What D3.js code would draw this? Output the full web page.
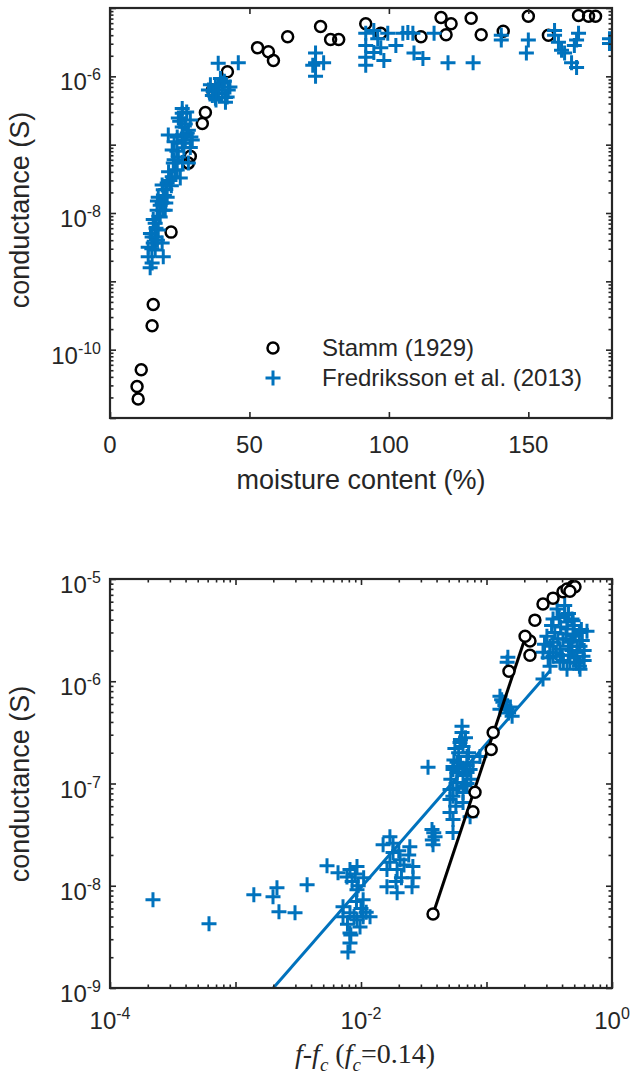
<!DOCTYPE html>
<html><head><meta charset="utf-8">
<script src="https://cdn.jsdelivr.net/npm/d3@7"></script>
<style>
body{margin:0;background:#fff}
svg{display:block}
text{font-family:"Liberation Sans",Arial,sans-serif;fill:#262626}
</style>
</head><body>
<svg id="fig" width="631" height="1082"></svg>
<script>
/* top panel: conductance vs moisture content */
const stammMC=[10.1,9.7,11.2,15.1,15.5,21.9,28.1,28.8,33.1,34.2,36.7,42.1,52.9,56.8,58.6,63.7,75.5,79.1,82.0,91.7,97.1,111.5,118.7,122.3,120.5,129.5,133.1,141.0,150.0,157.2,168.0,171.6,174.1];
const stammG=[1.9e-11,2.9e-11,5.1e-11,2.24e-10,4.57e-10,5.25e-9,5.37e-8,6.76e-8,2.04e-7,2.95e-7,6.31e-7,1.17e-6,2.63e-6,2.29e-6,1.70e-6,3.80e-6,5.37e-6,3.47e-6,3.47e-6,5.89e-6,4.27e-6,3.80e-6,7.24e-6,5.89e-6,4.07e-6,7.08e-6,4.07e-6,4.57e-6,7.59e-6,3.98e-6,7.76e-6,7.59e-6,7.59e-6];
const fredMC=[14.4,15.1,13.7,16.2,15.5,15.1,17.3,16.2,18.0,16.9,18.7,17.3,19.1,20.5,18.7,22.3,23.4,25.2,22.7,24.5,22.3,25.9,24.1,20.9,27.7,25.9,28.1,28.8,25.9,25.9,24.5,27.0,28.8,29.5,28.1,24.1,20.5,19.8,16.2,18.7,19.1,13.7,
  16.5,17.5,18.0,19.5,20.0,21.5,21.0,23.0,24.0,26.5,23.0,26.0,27.0,25.0,27.5,29.0,26.0,22.0,17.0,15.5,14.5,17.0,15.0,19.0,20.0,
  35.3,37.8,40.3,38.8,41.4,42.4,36.7,39.6,41.4,37.8,40.3,38.8,46.0,36.0,39.0,42.0,37.0,41.0,38.0,43.0,
  73.7,73.7,73.7,76.6,72.7,91.7,91.7,91.7,91.7,94.6,96.0,97.1,98.2,99.6,94.6,102.5,105.0,106.8,108.6,109.0,112.2,116.2,121.2,130.2,140.3,140.3,150.0,149.3,159.4,159.4,160.8,161.9,163.0,165.5,167.3,167.3,168.0,166.5,179.1,179.1];
const fredG=[1.58e-9,1.86e-9,2.29e-9,2.88e-9,3.63e-9,4.47e-9,5.62e-9,7.08e-9,8.71e-9,1.10e-8,1.41e-8,1.70e-8,2.19e-8,2.75e-8,2.57e-8,3.39e-8,4.27e-8,3.24e-8,5.37e-8,6.61e-8,8.32e-8,1.05e-7,1.29e-7,1.38e-7,1.48e-7,1.82e-7,1.62e-7,2.29e-7,3.39e-7,2.88e-7,2.45e-7,1.17e-7,9.12e-8,1.17e-7,5.37e-8,4.27e-8,1.70e-8,1.10e-8,4.47e-9,3.63e-9,2.29e-9,3.16e-9,
  6.0e-9,9.0e-9,1.3e-8,1.8e-8,2.2e-8,3.0e-8,4.0e-8,6.0e-8,8.0e-8,9.0e-8,1.1e-7,1.4e-7,2.0e-7,2.2e-7,3.0e-7,1.3e-7,5.5e-8,2.5e-8,1.5e-8,8.0e-9,5.0e-9,4.0e-9,3.0e-9,1.1e-8,1.4e-8,
  6.31e-7,6.92e-7,7.94e-7,5.62e-7,4.90e-7,6.31e-7,5.25e-7,9.33e-7,4.17e-7,4.79e-7,6.31e-7,1.55e-6,1.58e-6,7.5e-7,7.0e-7,5.0e-7,6.0e-7,8.5e-7,4.5e-7,7.0e-7,
  2.19e-6,1.58e-6,1.0e-6,1.58e-6,1.45e-6,4.27e-6,2.82e-6,1.91e-6,1.45e-6,4.68e-6,3.55e-6,2.63e-6,1.70e-6,4.27e-6,2.24e-6,2.82e-6,4.27e-6,4.37e-6,4.27e-6,2.19e-6,1.82e-6,4.27e-6,1.58e-6,1.58e-6,3.98e-6,3.39e-6,3.39e-6,2.19e-6,4.68e-6,3.98e-6,3.16e-6,2.40e-6,2.19e-6,1.58e-6,1.35e-6,3.39e-6,4.27e-6,2.82e-6,3.55e-6,3.02e-6];
const topXTicks=[0,50,100,150];
const topYLabelExp=[-10,-8,-6];

/* bottom panel: conductance vs f - fc */
const stammF=[0.0375,0.078,0.081,0.109,0.113,0.151,0.222,0.222,0.203,0.243,0.282,0.339,0.407,0.438,0.489,0.507,0.462];
const stammG2=[5.3e-9,5.3e-8,8.2e-8,2.15e-7,3.16e-7,1.25e-6,1.8e-6,2.47e-6,2.76e-6,3.96e-6,5.7e-6,6.5e-6,7.5e-6,8.0e-6,8.5e-6,8.4e-6,7.6e-6];
const fredF=[2.2e-4,6.15e-4,1.40e-3,2.14e-3,1.99e-3,2.22e-3,2.98e-3,3.72e-3,5.36e-3,6.56e-3,8.17e-3,9.29e-3,7.73e-3,9.29e-3,7.19e-3,8.17e-3,9.29e-3,1.04e-2,1.18e-2,8.17e-3,8.17e-3,7.87e-3,9.82e-3,1.04e-2,7.19e-3,
  8.5e-3,9.0e-3,9.5e-3,1.0e-2,8.8e-3,7.8e-3,1.05e-2,1.1e-2,9.2e-3,8.3e-3,
  1.50e-2,1.70e-2,1.80e-2,1.61e-2,1.94e-2,1.61e-2,1.94e-2,2.45e-2,2.59e-2,2.55e-2,2.05e-2,3.68e-2,3.75e-2,3.89e-2,
  1.8e-2,2.0e-2,2.1e-2,1.9e-2,2.2e-2,1.7e-2,2.4e-2,2.6e-2,3.7e-2,3.8e-2,
  5.12e-2,5.41e-2,5.41e-2,5.12e-2,5.41e-2,5.82e-2,7.0e-2,5.41e-2,3.42e-2,7.4e-2,6.5e-2,6.38e-2,6.38e-2,6.15e-2,7.0e-2,5.82e-2,5.41e-2,7.4e-2,5.82e-2,7.8e-2,8.87e-2,5.12e-2,6.5e-2,
  0.06,0.065,0.07,0.056,0.068,0.075,0.062,0.055,0.06,0.065,0.058,0.07,0.052,0.062,0.072,0.067,0.057,0.054,
  0.128,0.135,0.146,0.128,0.160,0.146,0.148,0.14,0.15,0.132,0.155,
  0.282,0.282,0.339,0.385,0.438,0.339,0.365,0.489,0.556,0.587,0.556,0.462,0.303,0.385,0.632,0.480,0.407,0.321,0.526,0.438,0.321,
  0.35,0.42,0.45,0.50,0.55,0.40,0.31,0.37,0.48,0.52,0.44,0.58,0.33,0.60,0.29,
  0.34,0.39,0.43,0.47,0.51,0.36,0.41,0.46,0.53,0.57,0.38,0.42,0.50,0.45,0.60,0.55,0.32,0.49];
const fredG2=[7.3e-9,4.24e-9,8.17e-9,9.55e-9,7.8e-9,5.56e-9,5.43e-9,1.02e-8,1.57e-8,1.34e-8,1.44e-8,1.54e-8,1.22e-8,9.14e-9,6.22e-9,5.43e-9,4.65e-9,4.97e-9,4.97e-9,3.46e-9,2.76e-9,2.25e-9,3.96e-9,7.3e-9,4.97e-9,
  1.1e-8,1.3e-8,1.0e-8,6.0e-9,5.0e-9,4.2e-9,1.2e-8,5.5e-9,7.0e-9,3.3e-9,
  2.52e-8,3.02e-8,2.11e-8,1.44e-8,1.44e-8,9.77e-9,8.53e-9,2.41e-8,1.54e-8,9.77e-9,1.80e-8,3.54e-8,2.52e-8,3.02e-8,
  2.6e-8,2.2e-8,1.2e-8,1.1e-8,1.6e-8,1.7e-8,2.0e-8,1.2e-8,2.8e-8,3.3e-8,
  5.2e-8,4.44e-8,3.31e-8,6.97e-8,8.73e-8,1.28e-7,1.28e-7,1.47e-7,1.44e-7,4.74e-8,8.17e-8,3.62e-7,3.16e-7,2.52e-7,1.84e-7,1.61e-7,1.37e-7,1.37e-7,1.02e-7,1.61e-7,1.84e-7,8.73e-8,6.52e-8,
  2.0e-7,1.2e-7,1.0e-7,2.2e-7,2.8e-7,1.1e-7,1.6e-7,1.7e-7,1.4e-7,2.3e-7,9.0e-8,1.5e-7,1.1e-7,2.7e-7,2.0e-7,9.5e-8,6.0e-8,7.5e-8,
  7.13e-7,6.22e-7,5.31e-7,5.31e-7,4.54e-7,1.53e-6,1.72e-6,5.8e-7,4.9e-7,6.6e-7,5.6e-7,
  1.05e-6,1.92e-6,1.76e-6,2.06e-6,3.24e-6,4.06e-6,5.08e-6,2.76e-6,2.20e-6,1.76e-6,1.31e-6,1.53e-6,2.76e-6,1.53e-6,3.09e-6,4.06e-6,2.58e-6,2.20e-6,1.92e-6,1.31e-6,1.40e-6,
  3.0e-6,4.5e-6,2.2e-6,3.5e-6,3.0e-6,1.8e-6,1.7e-6,2.6e-6,2.0e-6,1.5e-6,3.8e-6,2.5e-6,3.5e-6,2.0e-6,2.3e-6,
  2.4e-6,3.4e-6,2.9e-6,2.4e-6,2.8e-6,1.9e-6,1.6e-6,1.8e-6,2.2e-6,3.2e-6,4.2e-6,5.5e-6,1.7e-6,4.6e-6,1.6e-6,1.4e-6,1.9e-6,3.9e-6];
const fitStammF=[0.0375,0.21], fitStammG=[5.3e-9,3.0e-6];
const fitFredF=[0.0020,0.32], fitFredG=[1e-9,1.26e-6];
const botXLabelExp=[-4,-2,0];
const botYLabelExp=[-9,-8,-7,-6,-5];

const BLUE="#0072BD", AX="#262626";
const svg=d3.select("#fig");
svg.append("rect").attr("width",631).attr("height",1082).attr("fill","#fff");

const pow10=e=>Math.pow(10,e);
function minorLog(lo,hi){const o=[];for(let e=lo;e<hi;e++)for(let k=2;k<=9;k++)o.push(k*pow10(e));return o;}
function majorLog(lo,hi){return d3.range(lo,hi+1).map(pow10);}
const plusPath="M-7.5,0H7.5M0,-7.5V7.5";

function ticks(g,axisFn,scale,vals,len,tr){
  g.append("g").attr("transform",tr).attr("color",AX)
    .call(axisFn(scale).tickValues(vals).tickSize(-len).tickFormat(""))
    .call(a=>a.select(".domain").remove())
    .selectAll("line").attr("stroke-width",1.6);
}
function expLabel(t,e){
  t.append("tspan").text("10");
  t.append("tspan").attr("dy",-10).attr("font-size",16).text(String(e));
}
function frame(g,b,x,y,xMaj,xMin,yMaj,yMin){
  const L=b.l,R=b.r,T=b.t,B=b.b;
  [[d3.axisBottom,x,`translate(0,${B})`,xMaj,xMin],[d3.axisTop,x,`translate(0,${T})`,xMaj,xMin],
   [d3.axisLeft,y,`translate(${L},0)`,yMaj,yMin],[d3.axisRight,y,`translate(${R},0)`,yMaj,yMin]].forEach(([fn,s,tr,mj,mn])=>{
    ticks(g,fn,s,mj,6,tr);
    if(mn) ticks(g,fn,s,mn,3.5,tr);
  });
  g.append("rect").attr("x",L).attr("y",T).attr("width",R-L).attr("height",B-T)
    .attr("fill","none").attr("stroke",AX).attr("stroke-width",2.2);
}

/* ---- top panel ---- */
const b1={l:110,r:612,t:8,b:418};
const x1=d3.scaleLinear().domain([0,180]).range([b1.l,b1.r]);
const y1=d3.scaleLog().domain([1e-11,1e-5]).range([b1.b,b1.t]);
const g1=svg.append("g");
svg.append("clipPath").attr("id","c1").append("rect").attr("x",b1.l).attr("y",b1.t).attr("width",b1.r-b1.l).attr("height",b1.b-b1.t);
const d1=g1.append("g").attr("clip-path","url(#c1)");
d1.selectAll("circle").data(stammMC).join("circle")
  .attr("cx",d=>x1(d)).attr("cy",(d,i)=>y1(stammG[i])).attr("r",5.5)
  .attr("fill","none").attr("stroke","#000").attr("stroke-width",2.5);
d1.selectAll("path.p").data(fredMC).join("path").attr("class","p")
  .attr("d",plusPath).attr("transform",(d,i)=>`translate(${x1(d)},${y1(fredG[i])})`)
  .attr("stroke",BLUE).attr("stroke-width",3);
frame(g1,b1,x1,y1,topXTicks,null,majorLog(-11,-5),minorLog(-11,-5));
g1.selectAll("text.xt").data(topXTicks).join("text").attr("class","xt")
  .attr("x",d=>x1(d)).attr("y",453).attr("text-anchor","middle").attr("font-size",24).text(d=>d);
g1.selectAll("text.yt").data(topYLabelExp).join("text").attr("class","yt")
  .attr("x",101).attr("y",d=>y1(pow10(d))+14).attr("text-anchor","end").attr("font-size",24)
  .each(function(d){expLabel(d3.select(this),d);});
g1.append("text").attr("x",361).attr("y",489).attr("text-anchor","middle").attr("font-size",27).text("moisture content (%)");
g1.append("text").attr("transform","translate(29,210) rotate(-90)").attr("text-anchor","middle").attr("font-size",27).text("conductance (S)");
// legend
const lg=g1.append("g");
lg.append("circle").attr("cx",273).attr("cy",348).attr("r",5.5).attr("fill","none").attr("stroke","#000").attr("stroke-width",2.5);
lg.append("path").attr("d",plusPath).attr("transform","translate(273,378)").attr("stroke",BLUE).attr("stroke-width",3);
lg.append("text").attr("x",322).attr("y",356).attr("font-size",24).text("Stamm (1929)");
lg.append("text").attr("x",322).attr("y",386).attr("font-size",24).text("Fredriksson et al. (2013)");

/* ---- bottom panel ---- */
const b2={l:110,r:612,t:579,b:988};
const x2=d3.scaleLog().domain([1e-4,1]).range([b2.l,b2.r]);
const y2=d3.scaleLog().domain([1e-9,1e-5]).range([b2.b,b2.t]);
const g2=svg.append("g");
svg.append("clipPath").attr("id","c2").append("rect").attr("x",b2.l).attr("y",b2.t).attr("width",b2.r-b2.l).attr("height",b2.b-b2.t);
const d2=g2.append("g").attr("clip-path","url(#c2)");
d2.selectAll("path.p").data(fredF).join("path").attr("class","p")
  .attr("d",plusPath).attr("transform",(d,i)=>`translate(${x2(d)},${y2(fredG2[i])})`)
  .attr("stroke",BLUE).attr("stroke-width",3);
const ln=d3.line().x(d=>x2(d[0])).y(d=>y2(d[1]));
d2.append("path").attr("d",ln(d3.zip(fitFredF,fitFredG))).attr("fill","none").attr("stroke",BLUE).attr("stroke-width",3);
d2.append("path").attr("d",ln(d3.zip(fitStammF,fitStammG))).attr("fill","none").attr("stroke","#000").attr("stroke-width",3);
d2.selectAll("circle").data(stammF).join("circle")
  .attr("cx",d=>x2(d)).attr("cy",(d,i)=>y2(stammG2[i])).attr("r",5.5)
  .attr("fill","#fff").attr("stroke","#000").attr("stroke-width",2.5);
frame(g2,b2,x2,y2,majorLog(-4,0),minorLog(-4,0),majorLog(-9,-5),minorLog(-9,-5));
g2.selectAll("text.xt").data(botXLabelExp).join("text").attr("class","xt")
  .attr("x",d=>x2(pow10(d))).attr("y",1029).attr("text-anchor","middle").attr("font-size",24)
  .each(function(d){expLabel(d3.select(this),d);});
g2.selectAll("text.yt").data(botYLabelExp).join("text").attr("class","yt")
  .attr("x",101).attr("y",d=>y2(pow10(d))+14).attr("text-anchor","end").attr("font-size",24)
  .each(function(d){expLabel(d3.select(this),d);});
g2.append("text").attr("transform","translate(29,784) rotate(-90)").attr("text-anchor","middle").attr("font-size",27).text("conductance (S)");
const xl=g2.append("text").attr("x",365).attr("y",1063).attr("text-anchor","middle")
  .attr("font-size",28).style("font-family","'Liberation Serif','Times New Roman',serif");
[["f",1,0],["-",0,0],["f",1,0],["c",1,8],[" (",0,-8],["f",1,0],["c",1,8],["=0.14)",0,-8]].forEach(([s,it,dy])=>{
  const t=xl.append("tspan").text(s).attr("dy",dy);
  if(it) t.attr("font-style","italic");
  if(s==="c") t.attr("font-size",19);
});
</script>
</body></html>
